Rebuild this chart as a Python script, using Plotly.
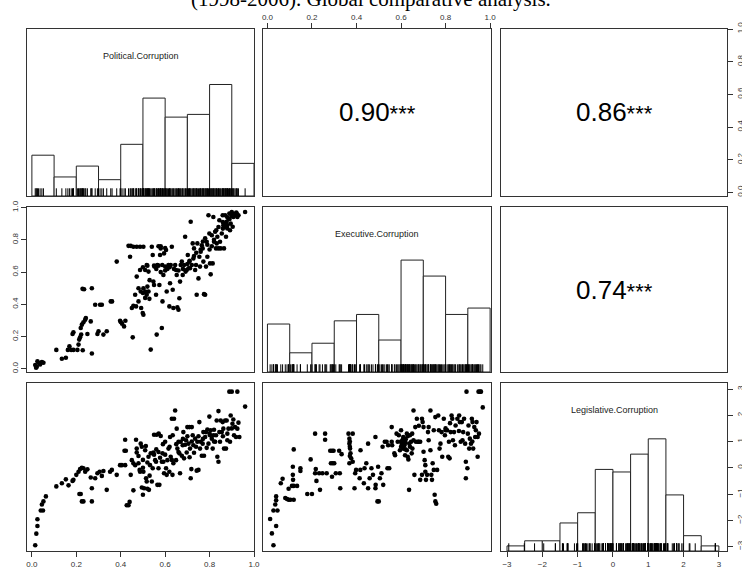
import plotly.graph_objects as go

W, H = 742, 571

# ---------------- data ----------------
var_names = ["Political.Corruption", "Executive.Corruption", "Legislative.Corruption"]
corr_values = ["0.90", "0.86", "0.74"]   # (P,E), (P,L), (E,L)
corr_stars = ["***", "***", "***"]

unit_ticks = [0.0, 0.2, 0.4, 0.6, 0.8, 1.0]
unit_labels = ["0.0", "0.2", "0.4", "0.6", "0.8", "1.0"]
leg_ticks = [-3, -2, -1, 0, 1, 2, 3]
leg_labels = ["\u22123", "\u22122", "\u22121", "0", "1", "2", "3"]

pol_bin_centers = [0.05, 0.15, 0.25, 0.35, 0.45, 0.55, 0.65, 0.75, 0.85, 0.95]
pol_counts = [15, 7, 11, 6, 19, 36, 29, 30, 41, 12]
exe_bin_centers = [0.05, 0.15, 0.25, 0.35, 0.45, 0.55, 0.65, 0.75, 0.85, 0.95]
exe_counts = [15, 6, 9, 16, 18, 10, 35, 30, 18, 20]
leg_bin_centers = [-2.75, -2.25, -1.75, -1.25, -0.75, -0.25, 0.25, 0.75, 1.25, 1.75, 2.25, 2.75]
leg_counts = [2, 4, 4, 11, 15, 32, 31, 38, 44, 22, 6, 2]

# (Political, Executive)
pol_exe = [(0.015,0.023),(0.022,0.012),(0.03,0.037),(0.037,0.027),(0.045,0.041),(0.052,0.037),(0.025,0.047),(0.019,0.006),
(0.11,0.117),(0.135,0.062),(0.153,0.068),(0.162,0.117),(0.169,0.14),(0.177,0.117),(0.187,0.117),(0.183,0.216),(0.187,0.226),
(0.205,0.117),(0.21,0.15),(0.213,0.181),(0.217,0.195),(0.222,0.212),(0.22,0.253),(0.225,0.274),(0.232,0.288),(0.24,0.305),
(0.243,0.315),(0.229,0.115),(0.228,0.496),(0.235,0.494),(0.27,0.5),(0.27,0.095),(0.25,0.216),(0.265,0.294),(0.285,0.397),
(0.307,0.397),(0.315,0.397),(0.295,0.216),(0.3,0.233),(0.322,0.212),(0.337,0.233),(0.355,0.418),(0.361,0.418),(0.382,0.665),
(0.397,0.298),(0.4,0.29),(0.406,0.28),(0.415,0.263),(0.421,0.298),(0.435,0.763),(0.445,0.763),(0.457,0.757),(0.472,0.757),
(0.487,0.757),(0.502,0.757),(0.442,0.695),(0.454,0.195),(0.45,0.377),(0.457,0.391),(0.465,0.459),(0.472,0.572),(0.469,0.387),
(0.48,0.418),(0.487,0.613),(0.492,0.377),(0.499,0.346),(0.502,0.335),(0.51,0.613),(0.517,0.644),(0.525,0.603),(0.502,0.5),
(0.51,0.48),(0.517,0.459),(0.525,0.48),(0.529,0.434),(0.535,0.119),(0.54,0.757),(0.544,0.706),(0.547,0.541),(0.55,0.52),
(0.552,0.634),(0.559,0.459),(0.562,0.212),(0.565,0.644),(0.574,0.52),(0.577,0.706),(0.58,0.747),(0.585,0.253),(0.587,0.644),
(0.588,0.418),(0.592,0.582),(0.595,0.716),(0.6,0.634),(0.604,0.737),(0.607,0.48),(0.615,0.644),(0.619,0.387),(0.622,0.531),
(0.625,0.644),(0.63,0.757),(0.634,0.49),(0.637,0.377),(0.645,0.644),(0.649,0.613),(0.652,0.582),(0.655,0.381),(0.66,0.366),
(0.664,0.438),(0.667,0.541),(0.67,0.644),(0.675,0.665),(0.679,0.582),(0.685,0.644),(0.69,0.819),(0.692,0.603),(0.697,0.613),
(0.702,0.706),(0.705,0.624),(0.709,0.665),(0.712,0.624),(0.715,0.912),(0.72,0.644),(0.724,0.778),(0.727,0.685),(0.73,0.747),
(0.735,0.613),(0.739,0.644),(0.742,0.459),(0.745,0.778),(0.75,0.561),(0.754,0.695),(0.757,0.634),(0.76,0.726),(0.765,0.767),
(0.769,0.747),(0.772,0.665),(0.775,0.463),(0.78,0.459),(0.784,0.634),(0.787,0.788),(0.79,0.695),(0.795,0.953),(0.799,0.84),
(0.802,0.654),(0.805,0.586),(0.81,0.829),(0.814,0.654),(0.817,0.942),(0.82,0.788),(0.825,0.85),(0.829,0.747),(0.832,0.778),
(0.835,0.819),(0.84,0.747),(0.844,0.922),(0.847,0.788),(0.85,0.747),(0.855,0.84),(0.859,0.953),(0.862,0.891),(0.865,0.747),
(0.87,0.953),(0.874,0.819),(0.877,0.912),(0.88,0.871),(0.885,0.932),(0.889,0.963),(0.892,0.86),(0.895,0.901),(0.9,0.973),
(0.904,0.881),(0.907,0.942),(0.915,0.953),(0.922,0.963),(0.925,0.942),(0.93,0.953),(0.96,0.973),
(0.48,0.5),(0.49,0.48),(0.5,0.47),(0.51,0.44),(0.52,0.51),(0.53,0.55),(0.56,0.62),(0.57,0.64),(0.58,0.6),(0.6,0.61),
(0.61,0.62),(0.62,0.63),(0.64,0.62),(0.66,0.61),(0.68,0.62),(0.7,0.65),(0.71,0.67),(0.73,0.7),(0.74,0.72),(0.76,0.74),
(0.77,0.79),(0.78,0.81),(0.79,0.77),(0.8,0.74),(0.81,0.76),(0.82,0.8),(0.83,0.86),(0.84,0.88),(0.86,0.91),(0.87,0.9),
(0.88,0.94),(0.89,0.93),(0.9,0.95),(0.91,0.96),(0.92,0.97),(0.86,0.87),(0.87,0.88),(0.88,0.89),(0.5,0.63),(0.52,0.64),
(0.55,0.64),(0.57,0.76),(0.6,0.75),(0.58,0.76)]

# (Political, Legislative)
pol_leg = [(0.015,-2.95),(0.02,-2.51),(0.025,-2.22),(0.025,-1.96),(0.04,-1.63),(0.05,-1.63),(0.045,-1.40),(0.052,-1.28),
(0.063,-1.09),(0.11,-0.71),(0.135,-0.59),(0.153,-0.44),(0.165,-0.67),(0.183,-0.50),(0.187,-0.46),(0.2,-0.27),(0.21,-0.15),
(0.217,-0.05),(0.225,0.0),(0.232,-0.02),(0.24,-0.15),(0.25,-0.06),(0.214,-1.0),(0.22,-1.0),(0.225,-1.28),(0.232,-1.28),
(0.265,-0.37),(0.27,-0.78),(0.27,-1.28),(0.285,-0.4),(0.295,-0.21),(0.305,-0.15),(0.315,-0.31),(0.322,-0.12),(0.337,-0.84),
(0.352,-0.15),(0.36,-0.08),(0.382,-0.27),(0.397,0.1),(0.405,0.1),(0.42,0.1),(0.417,0.65),(0.423,0.65),(0.42,1.07),
(0.427,-1.43),(0.435,-1.43),(0.44,-1.3),(0.445,-0.27),(0.45,0.29),(0.457,-0.86),(0.457,0.17),(0.465,0.1),(0.469,1.07),
(0.472,0.73),(0.472,0.58),(0.48,0.17),(0.485,-0.08),(0.487,-0.15),(0.49,0.92),(0.495,0.8),(0.495,-0.75),(0.5,-1.03),
(0.502,-0.15),(0.505,-0.78),(0.51,0.67),(0.513,0.83),(0.514,-0.4),(0.517,-0.52),(0.52,-0.8),(0.525,0.42),(0.527,-0.84),
(0.532,0.1),(0.535,0.55),(0.54,-0.52),(0.544,-0.02),(0.547,0.58),(0.55,1.26),(0.555,0.29),(0.559,0.23),(0.562,1.26),
(0.565,-0.65),(0.57,-0.02),(0.571,1.3),(0.574,-0.65),(0.577,0.38),(0.58,1.21),(0.585,0.23),(0.588,0.55),(0.592,0.23),
(0.595,-0.21),(0.6,0.99),(0.604,-0.02),(0.607,-0.27),(0.61,0.29),(0.615,0.73),(0.619,-0.15),(0.622,1.17),(0.625,0.42),
(0.63,1.87),(0.633,-0.27),(0.634,1.24),(0.637,0.17),(0.64,1.87),(0.645,2.18),(0.649,0.29),(0.652,1.49),(0.655,0.73),
(0.66,0.99),(0.664,0.55),(0.667,-0.21),(0.67,0.99),(0.675,0.46),(0.679,0.86),(0.682,1.36),(0.685,0.36),(0.69,0.88),
(0.694,1.05),(0.697,0.58),(0.7,1.55),(0.705,0.92),(0.709,1.55),(0.712,0.73),(0.715,-0.4),(0.718,-0.05),(0.72,1.55),
(0.724,1.24),(0.727,0.86),(0.73,0.57),(0.735,1.11),(0.739,0.8),(0.742,-0.11),(0.745,0.99),(0.75,-0.08),(0.754,1.74),
(0.757,0.73),(0.76,0.99),(0.765,0.46),(0.769,0.92),(0.772,1.36),(0.775,0.46),(0.78,1.17),(0.784,1.36),(0.787,0.76),
(0.79,1.46),(0.795,0.92),(0.799,1.95),(0.802,1.24),(0.805,1.43),(0.81,1.11),(0.814,0.73),(0.817,1.24),(0.82,1.45),
(0.825,0.99),(0.829,1.24),(0.832,1.8),(0.835,0.42),(0.84,2.16),(0.84,0.23),(0.844,1.36),(0.847,0.99),(0.85,1.8),
(0.855,1.36),(0.859,1.74),(0.862,1.49),(0.865,0.73),(0.87,1.8),(0.874,0.73),(0.877,1.8),(0.88,1.05),(0.885,1.49),
(0.889,2.9),(0.892,0.99),(0.895,1.99),(0.9,2.9),(0.903,1.68),(0.907,1.84),(0.91,1.24),(0.915,1.55),(0.919,1.17),
(0.925,2.9),(0.925,1.49),(0.93,1.72),(0.934,1.17),(0.96,2.33),
(0.48,0.45),(0.5,0.3),(0.52,0.2),(0.55,0.5),(0.57,0.6),(0.6,0.5),(0.62,0.8),(0.65,0.9),(0.68,1.1),(0.7,1.2),(0.72,1.0),
(0.75,1.2),(0.77,1.1),(0.8,1.3),(0.82,1.0),(0.86,1.2),(0.88,1.3),(0.9,1.5),(0.5,0.0),(0.53,-0.3),(0.56,0.7),(0.59,0.9),
(0.63,0.3),(0.66,0.6),(0.71,0.4)]

# (Executive, Legislative)
exe_leg = [(0.027,-2.95),(0.02,-2.5),(0.012,-1.95),(0.039,-2.22),(0.027,-1.63),(0.045,-1.63),(0.035,-1.4),(0.039,-1.24),
(0.039,-1.09),(0.06,-0.59),(0.068,-0.42),(0.08,-1.15),(0.088,-1.19),(0.095,-1.22),(0.103,-1.22),(0.118,-1.22),(0.095,-0.8),
(0.11,-0.69),(0.118,-0.69),(0.115,-0.46),(0.133,-0.69),(0.114,-0.27),(0.114,0.04),(0.118,0.70),(0.148,-0.02),(0.148,-0.12),
(0.179,-1.0),(0.2,-1.0),(0.194,0.32),(0.214,1.3),(0.217,-0.05),(0.214,-0.21),(0.22,-0.5),(0.236,-0.84),(0.232,-0.21),
(0.247,-0.21),(0.259,1.3),(0.259,1.07),(0.266,-0.21),(0.282,0.65),(0.29,0.65),(0.297,0.65),(0.285,0.17),(0.293,0.17),
(0.3,0.17),(0.29,-0.34),(0.307,-0.21),(0.325,-0.21),(0.327,-0.78),(0.322,0.65),(0.333,0.52),(0.364,1.3),(0.383,1.3),
(0.368,1.11),(0.368,0.92),(0.371,0.73),(0.373,0.55),(0.376,0.36),(0.368,0.17),(0.383,0.23),(0.394,-0.21),(0.391,-0.78),
(0.398,-0.08),(0.414,-0.4),(0.417,-0.08),(0.418,0.67),(0.433,-0.59),(0.436,-0.02),(0.444,0.17),(0.452,0.92),(0.459,-0.4),
(0.452,-0.78),(0.467,-0.02),(0.474,-0.27),(0.485,1.17),(0.485,-0.78),(0.486,-0.65),(0.494,-1.28),(0.5,-1.28),(0.497,0.04),
(0.505,-0.4),(0.512,-0.21),(0.52,-0.65),(0.517,0.8),(0.527,0.99),(0.539,-0.02),(0.547,-0.02),(0.535,0.99),(0.542,0.86),
(0.558,1.55),(0.558,0.99),(0.56,0.86),(0.57,0.55),(0.573,0.48),(0.58,1.3),(0.585,0.99),(0.59,1.24),(0.595,0.67),(0.6,1.43),
(0.603,0.92),(0.606,1.05),(0.61,1.17),(0.61,0.73),(0.615,0.86),(0.618,0.48),(0.621,1.09),(0.626,1.3),(0.626,0.67),
(0.63,0.42),(0.633,0.32),(0.636,-0.84),(0.637,0.92),(0.64,0.8),(0.64,1.24),(0.645,0.99),(0.648,0.55),(0.651,0.73),
(0.656,2.18),(0.656,1.05),(0.66,-0.27),(0.664,1.55),(0.667,0.99),(0.671,1.87),(0.676,0.99),(0.679,0.99),(0.686,0.99),
(0.686,-0.46),(0.694,-0.27),(0.694,1.87),(0.697,1.74),(0.701,1.55),(0.701,0.61),(0.706,0.29),(0.709,0.1),(0.709,-0.15),
(0.712,-0.46),(0.717,-0.27),(0.721,1.36),(0.724,1.55),(0.724,1.05),(0.732,2.18),(0.732,0.67),(0.736,-0.27),(0.739,-0.46),
(0.742,0.17),(0.747,1.43),(0.747,-0.08),(0.751,-1.03),(0.754,-1.28),(0.758,-1.37),(0.754,1.93),(0.762,-0.08),(0.767,1.99),
(0.77,1.43),(0.773,0.73),(0.777,0.92),(0.782,1.36),(0.785,0.42),(0.792,1.87),(0.797,1.24),(0.8,1.43),(0.807,1.43),
(0.812,0.42),(0.815,0.99),(0.818,0.36),(0.823,1.36),(0.827,1.99),(0.83,1.87),(0.833,1.05),(0.838,1.36),(0.842,0.86),
(0.845,1.61),(0.853,1.87),(0.861,1.99),(0.864,1.74),(0.868,0.99),(0.873,1.74),(0.876,1.05),(0.879,1.36),(0.883,1.87),
(0.888,0.92),(0.891,0.23),(0.891,-0.4),(0.894,2.9),(0.898,-0.02),(0.903,1.61),(0.906,0.73),(0.909,1.11),(0.914,0.92),
(0.918,1.87),(0.921,1.74),(0.924,0.73),(0.929,1.55),(0.933,1.17),(0.936,1.43),(0.939,1.74),(0.944,1.17),(0.944,0.42),
(0.948,2.9),(0.955,2.9),(0.959,2.9),(0.967,2.3),
(0.6,1.0),(0.61,1.1),(0.62,0.95),(0.63,1.2),(0.6,0.8),(0.61,0.9),(0.62,0.7),(0.37,0.45),(0.37,0.8),(0.37,1.0),
(0.65,1.3),(0.68,1.6),(0.8,1.5),(0.82,1.7),(0.86,1.4),(0.9,1.3),(0.92,1.0),(0.95,1.3)]

# ---------------- layout helpers ----------------
cols_px = [(27, 254), (263, 491), (501, 727)]
rows_px = [(29, 196), (207, 372), (383, 551)]
var_ranges = [[-0.022, 1.0], [-0.02, 1.004], [-3.17, 3.23]]
hist_ymax = [61.4, 51.6, 65.9]

INK = "#222222"
AX = "#333333"
tick_font = dict(family="Liberation Sans, Arial, sans-serif", size=8, color="#333333")

fig = go.Figure()

def ax_name(k, letter):
    return letter if k == 1 else f"{letter}{k}"

layout = dict(
    width=W, height=H,
    margin=dict(l=0, r=0, t=0, b=0, pad=0, autoexpand=False),
    paper_bgcolor="white", plot_bgcolor="white",
    showlegend=False,
)

for r in range(3):
    for c in range(3):
        k = r * 3 + c + 1
        x0, x1 = cols_px[c]
        y0, y1 = rows_px[r]
        xa = dict(domain=[x0 / W, x1 / W], anchor=ax_name(k, "y"), range=var_ranges[c],
                  showline=True, mirror=True, linecolor=AX, linewidth=1,
                  showgrid=False, zeroline=False, showticklabels=False, ticks="",
                  fixedrange=True, automargin=False)
        if r == c:
            yr = [0, hist_ymax[r]]
        else:
            yr = var_ranges[r]
        ya = dict(domain=[1 - y1 / H, 1 - y0 / H], anchor=ax_name(k, "x"), range=yr,
                  showline=True, mirror=True, linecolor=AX, linewidth=1,
                  showgrid=False, zeroline=False, showticklabels=False, ticks="",
                  fixedrange=True, automargin=False)
        layout["xaxis" + ("" if k == 1 else str(k))] = xa
        layout["yaxis" + ("" if k == 1 else str(k))] = ya

tick_common = dict(ticks="outside", ticklen=5, tickwidth=1, tickcolor=AX,
                   showticklabels=True, tickfont=tick_font)
layout["xaxis7"].update(tickvals=unit_ticks, ticktext=unit_labels, side="bottom", **tick_common)
layout["xaxis9"].update(tickvals=leg_ticks, ticktext=leg_labels, side="bottom", **tick_common)
layout["xaxis2"].update(tickvals=unit_ticks, ticktext=unit_labels, side="top", **tick_common)
layout["yaxis4"].update(tickvals=unit_ticks, ticktext=unit_labels, side="left", tickangle=-90, **tick_common)
layout["yaxis3"].update(tickvals=unit_ticks, ticktext=unit_labels, side="right", tickangle=-90, **tick_common)
layout["yaxis10"] = dict(overlaying="y9", anchor="x9", side="right", range=var_ranges[2],
                         tickvals=leg_ticks, ticktext=leg_labels, tickangle=-90,
                         showline=False, showgrid=False, zeroline=False, fixedrange=True,
                         automargin=False, **tick_common)

# ---------------- traces ----------------
pt_marker = dict(color="black", size=4.6, line=dict(width=0))

def add_scatter(points, k):
    fig.add_trace(go.Scatter(x=[p[0] for p in points], y=[p[1] for p in points], mode="markers",
                             marker=pt_marker, xaxis=ax_name(k, "x"), yaxis=ax_name(k, "y"),
                             hoverinfo="skip"))

add_scatter(pol_exe, 4)
add_scatter(pol_leg, 7)
add_scatter(exe_leg, 8)

# empty traces so the correlation panels get drawn
for k in (2, 3, 6):
    fig.add_trace(go.Scatter(x=[None], y=[None], mode="markers", xaxis=ax_name(k, "x"),
                             yaxis=ax_name(k, "y"), hoverinfo="skip", marker=dict(opacity=0)))

bar_style = dict(marker=dict(color="white", line=dict(color=INK, width=1)), hoverinfo="skip")
fig.add_trace(go.Bar(x=pol_bin_centers, y=pol_counts, width=0.1, xaxis="x", yaxis="y", **bar_style))
fig.add_trace(go.Bar(x=exe_bin_centers, y=exe_counts, width=0.1, xaxis="x5", yaxis="y5", **bar_style))
fig.add_trace(go.Bar(x=leg_bin_centers, y=leg_counts, width=0.5, xaxis="x9", yaxis="y9", **bar_style))

rug_marker = dict(symbol="line-ns-open", size=11, color="black", line=dict(width=1, color="black"))
pol_vals = [p[0] for p in pol_exe]
exe_vals = [p[0] for p in exe_leg]
leg_vals = [p[1] for p in pol_leg]
fig.add_trace(go.Scatter(x=pol_vals, y=[0] * len(pol_vals), mode="markers", marker=rug_marker,
                         xaxis="x", yaxis="y", hoverinfo="skip"))
fig.add_trace(go.Scatter(x=exe_vals, y=[0] * len(exe_vals), mode="markers", marker=rug_marker,
                         xaxis="x5", yaxis="y5", hoverinfo="skip"))
fig.add_trace(go.Scatter(x=leg_vals, y=[var_ranges[2][0]] * len(leg_vals), mode="markers", marker=rug_marker,
                         xaxis="x9", yaxis="y10", hoverinfo="skip"))

layout["barmode"] = "overlay"
layout["bargap"] = 0

# ---------------- annotations ----------------
annotations = []
for i in range(3):
    k = i * 3 + i + 1
    y0, y1 = rows_px[i]
    annotations.append(dict(text=var_names[i], xref=ax_name(k, "x") + " domain", yref=ax_name(k, "y") + " domain",
                            x=0.5, y=1 - 27 / (y1 - y0), xanchor="center", yanchor="middle", showarrow=False,
                            font=dict(family="Liberation Sans, Arial, sans-serif", size=9, color="#222222")))

corr_panels = [2, 3, 6]
for txt, st, k in zip(corr_values, corr_stars, corr_panels):
    annotations.append(dict(text=f"{txt}<span style='font-size:22px'>{st}</span>",
                            xref=ax_name(k, "x") + " domain", yref=ax_name(k, "y") + " domain",
                            x=0.5, y=0.5, xanchor="center", yanchor="middle", showarrow=False,
                            font=dict(family="Liberation Sans, Arial, sans-serif", size=26, color="black")))

annotations.append(dict(text="(1998-2006). Global comparative analysis.", xref="paper", yref="paper",
                        x=0.5, y=1 - 13 / H, xanchor="center", yanchor="bottom", showarrow=False,
                        font=dict(family="Liberation Serif, Times New Roman, serif", size=21, color="black")))
layout["annotations"] = annotations

fig.update_layout(**layout)
fig.write_html("out.html", config={"displayModeBar": False, "staticPlot": True},
               post_script="document.body.style.margin='0';document.body.style.overflow='hidden';")
